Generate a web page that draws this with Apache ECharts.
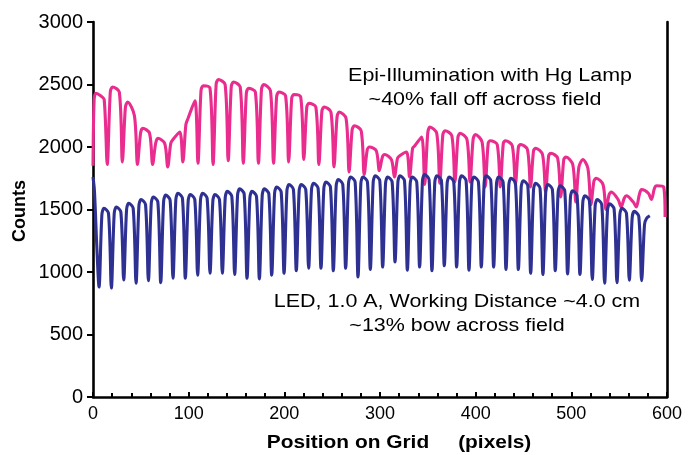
<!DOCTYPE html>
<html><head><meta charset="utf-8">
<script src="https://cdn.jsdelivr.net/npm/echarts@6/dist/echarts.min.js"></script>
<style>html,body{margin:0;padding:0;background:#fff}#c{width:693px;height:455px}</style>
</head><body><div id="c"></div>
<script>
// Axis scale
const xMin = 0, xMax = 600, xStep = 100;
const yMin = 0, yMax = 3000, yStep = 500;

// Texts
const xTitle = 'Position on Grid     (pixels)';
const yTitle = 'Counts';
const hgLabel = ['Epi-Illumination with Hg Lamp', '~40% fall off across field'];
const ledLabel = ['LED, 1.0 A, Working Distance ~4.0 cm', '~13% bow across field'];

// Epi-Illumination with Hg Lamp: [position, counts]
const hgLamp = [
[0,1850],[1.2,2380],[3,2430],[8,2410],[11.7,2380],
[14.9,1860],[18.1,2440],[20.4,2480],[27.5,2440],
[30.7,1880],[33.9,2320],[36.2,2360],[43.3,2250],
[46.5,1860],[49.7,2110],[52.0,2150],[59.1,2110],
[62.3,1860],[65.5,2030],[67.8,2070],[74.9,2030],
[78.1,1840],[81.3,2030],[83.6,2060],[90.7,2120],
[93.9,1880],[97.1,2180],[99.4,2230],[106.5,2370],
[109.7,1870],[112.9,2450],[115.2,2490],[122.3,2470],
[125.5,1860],[128.7,2500],[131.0,2540],[138.1,2500],
[141.3,1890],[144.5,2480],[146.8,2520],[153.9,2480],
[157.1,1870],[160.3,2430],[162.6,2470],[169.7,2440],
[172.9,1870],[176.1,2460],[178.4,2500],[185.5,2450],
[188.7,1870],[191.9,2400],[194.2,2440],[201.3,2410],
[204.5,1880],[207.7,2390],[210.0,2420],[217.1,2400],
[220.3,1900],[223.5,2320],[225.8,2350],[232.9,2320],
[236.1,1860],[239.3,2290],[241.6,2320],[248.7,2280],
[251.9,1840],[255.1,2240],[257.4,2280],[264.5,2230],
[267.7,1800],[270.9,2140],[273.2,2170],[280.3,2130],
[283.5,1780],[286.7,1980],[289.0,2000],[296.1,1970],
[299.3,1810],[302.5,1920],[304.8,1940],[311.9,1900],
[315.1,1760],[318.3,1910],[320.6,1930],[327.7,1960],
[330.9,1760],[334.1,1990],[336.4,2010],[343.5,2080],
[346.7,1700],[349.9,2110],[352.2,2160],[359.3,2110],
[362.5,1710],[365.7,2100],[368.0,2130],[375.1,2090],
[378.3,1720],[381.5,2080],[383.8,2110],[390.9,2060],
[394.1,1720],[397.3,2060],[399.6,2100],[406.7,2040],
[409.9,1680],[413.1,2030],[415.4,2050],[422.5,2020],
[425.7,1680],[428.9,2030],[431.2,2050],[438.3,2010],
[441.5,1700],[444.7,2000],[447.0,2020],[454.1,1980],
[457.3,1680],[460.5,1970],[462.8,1990],[469.9,1940],
[473.1,1640],[476.3,1930],[478.6,1950],[485.7,1910],
[488.9,1600],[492.1,1900],[494.4,1920],[501.5,1860],
[504.7,1560],[507.9,1840],[512.0,1900],[517.3,1830],
[520.5,1540],[523.7,1730],[526.0,1750],[533.1,1700],
[536.3,1500],[539.5,1620],[541.8,1640],[548.9,1580],
[552.1,1520],[555.3,1590],[557.6,1610],[564.7,1560],
[567.9,1520],[571.1,1620],[573.4,1660],[580.5,1630],
[583.7,1580],[586.9,1670],[589.2,1690],[596.5,1680],[598.0,1440]
];

// LED, 1.0 A: [position, counts]
const led = [
[0,1760],[1.5,1650],[4,1200],
[6.3,880],[9.3,1460],[11.5,1510],[16.2,1470],
[19.2,872],[22.2,1470],[24.4,1520],[29.1,1480],
[32.1,936],[35.1,1500],[37.3,1550],[42.0,1510],
[45.0,910],[48.0,1530],[50.2,1580],[54.9,1540],
[57.9,930],[60.9,1550],[63.1,1600],[67.8,1560],
[70.8,915],[73.8,1565],[76.0,1615],[80.6,1575],
[83.6,950],[86.6,1580],[88.8,1630],[93.5,1590],
[96.5,950],[99.5,1570],[101.7,1620],[106.4,1580],
[109.4,975],[112.4,1580],[114.6,1630],[119.3,1590],
[122.3,990],[125.3,1570],[127.5,1620],[132.2,1580],
[135.2,990],[138.2,1595],[140.4,1645],[145.1,1605],
[148.1,980],[151.1,1615],[153.3,1665],[158.0,1625],
[161.0,950],[164.0,1595],[166.2,1645],[170.9,1605],
[173.9,945],[176.9,1615],[179.1,1665],[183.8,1625],
[186.8,975],[189.8,1630],[192.0,1680],[196.7,1640],
[199.7,990],[202.7,1650],[204.9,1700],[209.5,1660],
[212.5,1010],[215.5,1650],[217.7,1700],[222.4,1660],
[225.4,1030],[228.4,1660],[230.6,1710],[235.3,1670],
[238.3,1030],[241.3,1670],[243.5,1720],[248.2,1680],
[251.2,1010],[254.2,1690],[256.4,1740],[261.1,1700],
[264.1,1030],[267.1,1710],[269.3,1760],[274.0,1720],
[277.0,960],[280.0,1710],[282.2,1760],[286.9,1720],
[289.9,1020],[292.9,1720],[295.1,1770],[299.8,1730],
[302.8,1040],[305.8,1710],[308.0,1760],[312.7,1720],
[315.7,1080],[318.7,1720],[320.9,1770],[325.6,1730],
[328.6,1015],[331.6,1710],[333.8,1760],[338.4,1720],
[341.4,1040],[344.4,1730],[346.6,1780],[351.3,1740],
[354.3,1010],[357.3,1720],[359.5,1770],[364.2,1730],
[367.2,1050],[370.2,1710],[372.4,1760],[377.1,1720],
[380.1,1040],[383.1,1720],[385.3,1770],[390.0,1730],
[393.0,1015],[396.0,1710],[398.2,1760],[402.9,1720],
[405.9,1040],[408.9,1720],[411.1,1770],[415.8,1730],
[418.8,1040],[421.8,1710],[424.0,1760],[428.7,1720],
[431.7,1020],[434.7,1700],[436.9,1750],[441.6,1710],
[444.6,1020],[447.6,1680],[449.8,1730],[454.5,1690],
[457.5,990],[460.5,1660],[462.7,1710],[467.3,1670],
[470.3,980],[473.3,1650],[475.5,1700],[480.2,1660],
[483.2,1010],[486.2,1640],[488.4,1690],[493.1,1650],
[496.1,985],[499.1,1600],[501.3,1650],[506.0,1610],
[509.0,980],[512.0,1560],[514.2,1610],[518.9,1570],
[521.9,940],[524.9,1530],[527.1,1580],[531.8,1540],
[534.8,910],[537.8,1495],[540.0,1545],[544.7,1505],
[547.7,915],[550.7,1460],[552.9,1510],[557.6,1470],
[560.6,935],[563.6,1435],[565.8,1485],[570.5,1445],
[573.5,930],[576.5,1380],[578.7,1430],[582.0,1450]
];

const FONT = 'Liberation Sans, Arial, Helvetica, sans-serif';
const SX = 1.16; // horizontal text stretch seen in the reference
const chart = echarts.init(document.getElementById('c'), null, {renderer: 'canvas'});
function label(text, x, y, font) {
  return {type: 'text', x: x, y: y, scaleX: SX, scaleY: 1,
    style: {text: text, font: font, fill: '#000', textAlign: 'center', textVerticalAlign: 'middle'}};
}
chart.setOption({
  animation: false,
  backgroundColor: '#fff',
  grid: {left: 93, right: 26, top: 22, bottom: 58, containLabel: false},
  xAxis: {
    type: 'value', min: xMin, max: xMax, interval: xStep,
    axisLine: {show: true, onZero: false, lineStyle: {color: '#000', width: 2.6}},
    axisTick: {show: true, inside: true, length: 5, lineStyle: {color: '#000', width: 2}},
    minorTick: {show: true, splitNumber: 5, length: 4, lineStyle: {color: '#000', width: 2}},
    axisLabel: {color: '#000', fontSize: 18, fontFamily: FONT, margin: 8},
    splitLine: {show: false}
  },
  yAxis: [{
    type: 'value', min: yMin, max: yMax, interval: yStep,
    axisLine: {show: true, lineStyle: {color: '#000', width: 2.6}},
    axisTick: {show: true, inside: false, length: 6, lineStyle: {color: '#000', width: 2}},
    axisLabel: {color: '#000', fontSize: 20, fontFamily: FONT, margin: 10, formatter: function (v) { return String(v); }},
    splitLine: {show: false}
  }, {
    type: 'value', min: yMin, max: yMax, interval: yStep, position: 'right',
    axisLine: {show: true, lineStyle: {color: '#000', width: 2.6}},
    axisTick: {show: false}, axisLabel: {show: false}, splitLine: {show: false}
  }],
  series: [{
    name: 'Hg Lamp', type: 'line', data: hgLamp, showSymbol: false, symbol: 'none', smooth: 0.3,
    lineStyle: {color: '#E92C8E', width: 3.1, join: 'round'}, z: 2
  }, {
    name: 'LED', type: 'line', data: led, showSymbol: false, symbol: 'none', smooth: 0.3,
    lineStyle: {color: '#2E3192', width: 3.1, join: 'round'}, z: 3
  }],
  graphic: [
    label(hgLabel[0], 490, 76, '18.5px ' + FONT),
    label(hgLabel[1], 485, 100, '18.5px ' + FONT),
    label(ledLabel[0], 457, 302, '18.5px ' + FONT),
    label(ledLabel[1], 457, 326, '18.5px ' + FONT),
    label(xTitle, 399, 443, 'bold 18px ' + FONT),
    {type: 'text', x: 20, y: 211, rotation: Math.PI / 2,
      style: {text: yTitle, font: 'bold 18px ' + FONT, fill: '#000', textAlign: 'center', textVerticalAlign: 'middle'}}
  ]
});
</script>
</body></html>
